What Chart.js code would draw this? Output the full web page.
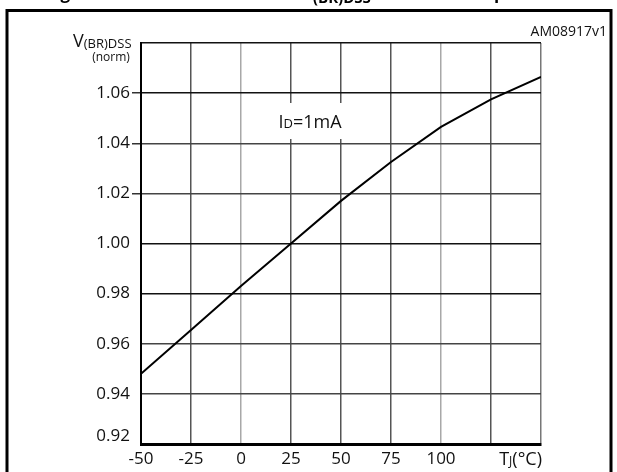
<!DOCTYPE html>
<html>
<head>
<meta charset="utf-8">
<script src="https://cdn.jsdelivr.net/npm/chart.js@4"></script>
<style>
  body { margin: 0; background: #fff; }
  canvas { display: block; }
</style>
</head>
<body>
<canvas id="chart" width="617" height="472"></canvas>
<script>
// junction temperature (°C) and normalized V(BR)DSS
const temps = [-50, -25, 0, 25, 50, 75, 100, 125, 150];
const vbr = [0.948, 0.9655, 0.983, 1.000, 1.017, 1.0325, 1.0465, 1.0575, 1.0665];

const xTicks = [-50, -25, 0, 25, 50, 75, 100];
const yTicks = [0.92, 0.94, 0.96, 0.98, 1.00, 1.02, 1.04, 1.06];

const FONT = "'Open Sans', 'Noto Sans', sans-serif";

// light lines at 0 and 100 like in the datasheet
function xGridColor(ctx) {
  const v = ctx.tick ? ctx.tick.value : null;
  if (v === 0 || v === 100) return '#a8a8a8';
  if (v === 150) return '#777';
  return '#555';
}

function yGridColor(ctx) {
  const v = ctx.tick ? Math.round(ctx.tick.value * 100) : null;
  if (v === 108 || v === 106 || v === 100 || v === 98) return '#111';
  return '#444';
}

function drawSub(ctx, parts, x, y, align) {
  // parts: [text, size, dy]
  let w = 0;
  parts.forEach(p => { ctx.font = p[1] + 'px ' + FONT; w += ctx.measureText(p[0]).width; });
  let cx = align === 'right' ? x - w : align === 'center' ? x - w / 2 : x;
  ctx.textAlign = 'left';
  parts.forEach(p => {
    ctx.font = p[1] + 'px ' + FONT;
    ctx.fillText(p[0], cx, y + (p[2] || 0));
    cx += ctx.measureText(p[0]).width;
  });
}

const extras = {
  id: 'extras',
  beforeDraw(chart) {
    const ctx = chart.ctx;
    ctx.save();
    ctx.fillStyle = '#fff';
    ctx.fillRect(0, 0, chart.width, chart.height);

    // cut-off figure title, only the descenders show
    ctx.fillStyle = '#000';
    ctx.textBaseline = 'alphabetic';
    ctx.font = 'bold 17px ' + FONT;
    ctx.textAlign = 'left';
    ctx.fillText('Figure 9. Normalized V', 46, -1);
    ctx.font = 'bold 15px ' + FONT;
    ctx.fillText('(BR)DSS', 313, 3);
    ctx.font = 'bold 17px ' + FONT;
    ctx.fillText('perature', 494, -1);

    // outer frame
    ctx.strokeStyle = '#000';
    ctx.lineWidth = 3;
    ctx.beginPath();
    ctx.moveTo(7, 480);
    ctx.lineTo(7, 10.5);
    ctx.lineTo(611, 10.5);
    ctx.lineTo(611, 480);
    ctx.stroke();
    ctx.restore();
  },
  afterDraw(chart) {
    const ctx = chart.ctx;
    const xs = chart.scales.x, ys = chart.scales.y;
    ctx.save();
    ctx.fillStyle = '#111';

    ctx.textBaseline = 'alphabetic';
    ctx.font = '14px ' + FONT;
    ctx.textAlign = 'right';
    ctx.fillText('AM08917v1', 607, 36);

    // y axis name
    drawSub(ctx, [['V', 18, 0], ['(BR)DSS', 13, 1]], 73, 47, 'left');
    ctx.font = '12px ' + FONT;
    ctx.textAlign = 'center';
    ctx.fillText('(norm)', 111, 61);

    // bottom y value sits above the axis line
    ctx.font = '17px ' + FONT;
    ctx.textAlign = 'right';
    ctx.textBaseline = 'middle';
    ctx.fillText(yTicks[0].toFixed(2), 130, ys.getPixelForValue(yTicks[0]) - 8);

    // x axis name in place of the last labels
    ctx.textBaseline = 'alphabetic';
    drawSub(ctx, [['T', 18, 0], ['J', 12, 0], ['(°C)', 18, 0]], xs.right + 1, 465, 'right');

    // condition label on a white patch
    ctx.fillStyle = '#fff';
    ctx.fillRect(266, 103, 86, 36);
    ctx.fillStyle = '#111';
    drawSub(ctx, [['I', 18, 0], ['D', 13, 0], ['=1mA', 18, 0]], 310, 128, 'center');
    ctx.restore();
  }
};

new Chart(document.getElementById('chart'), {
  type: 'line',
  data: {
    datasets: [{
      data: temps.map((t, i) => ({ x: t, y: vbr[i] })),
      borderColor: '#000',
      borderWidth: 2,
      pointRadius: 0,
      tension: 0,
      fill: false
    }]
  },
  options: {
    responsive: false,
    animation: false,
    layout: { padding: { left: 0, right: 76, top: 43, bottom: 0 } },
    plugins: { legend: { display: false }, tooltip: { enabled: false } },
    scales: {
      x: {
        type: 'linear',
        min: -50,
        max: 150,
        afterBuildTicks: s => { s.ticks = [-50, -25, 0, 25, 50, 75, 100, 125, 150].map(v => ({ value: v })); },
        afterFit: s => { s.height = 28; },
        ticks: {
          color: '#111',
          font: { family: FONT, size: 17 },
          padding: 5,
          maxRotation: 0,
          autoSkip: false,
          callback: v => xTicks.includes(v) ? String(v) : ''
        },
        grid: { color: xGridColor, lineWidth: 1.5, drawTicks: false },
        border: { color: '#000', width: 3 }
      },
      y: {
        min: 0.92,
        max: 1.08,
        afterBuildTicks: s => { s.ticks = yTicks.concat([1.08]).map(v => ({ value: v })); },
        afterFit: s => { s.width = 141; },
        ticks: {
          color: '#111',
          font: { family: FONT, size: 17 },
          padding: 2,
          autoSkip: false,
          callback: v => (Math.abs(v - yTicks[0]) < 1e-6 || v > 1.07) ? '' : v.toFixed(2)
        },
        grid: {
          color: yGridColor,
          lineWidth: 1.5,
          tickLength: 9,
          tickColor: ctx => {
            const v = ctx.tick ? ctx.tick.value : 0;
            return (v > 1.01 && v < 1.07) ? '#333' : 'rgba(0,0,0,0)';
          }
        },
        border: { color: '#000', width: 2 }
      }
    }
  },
  plugins: [extras]
});
</script>
</body>
</html>
